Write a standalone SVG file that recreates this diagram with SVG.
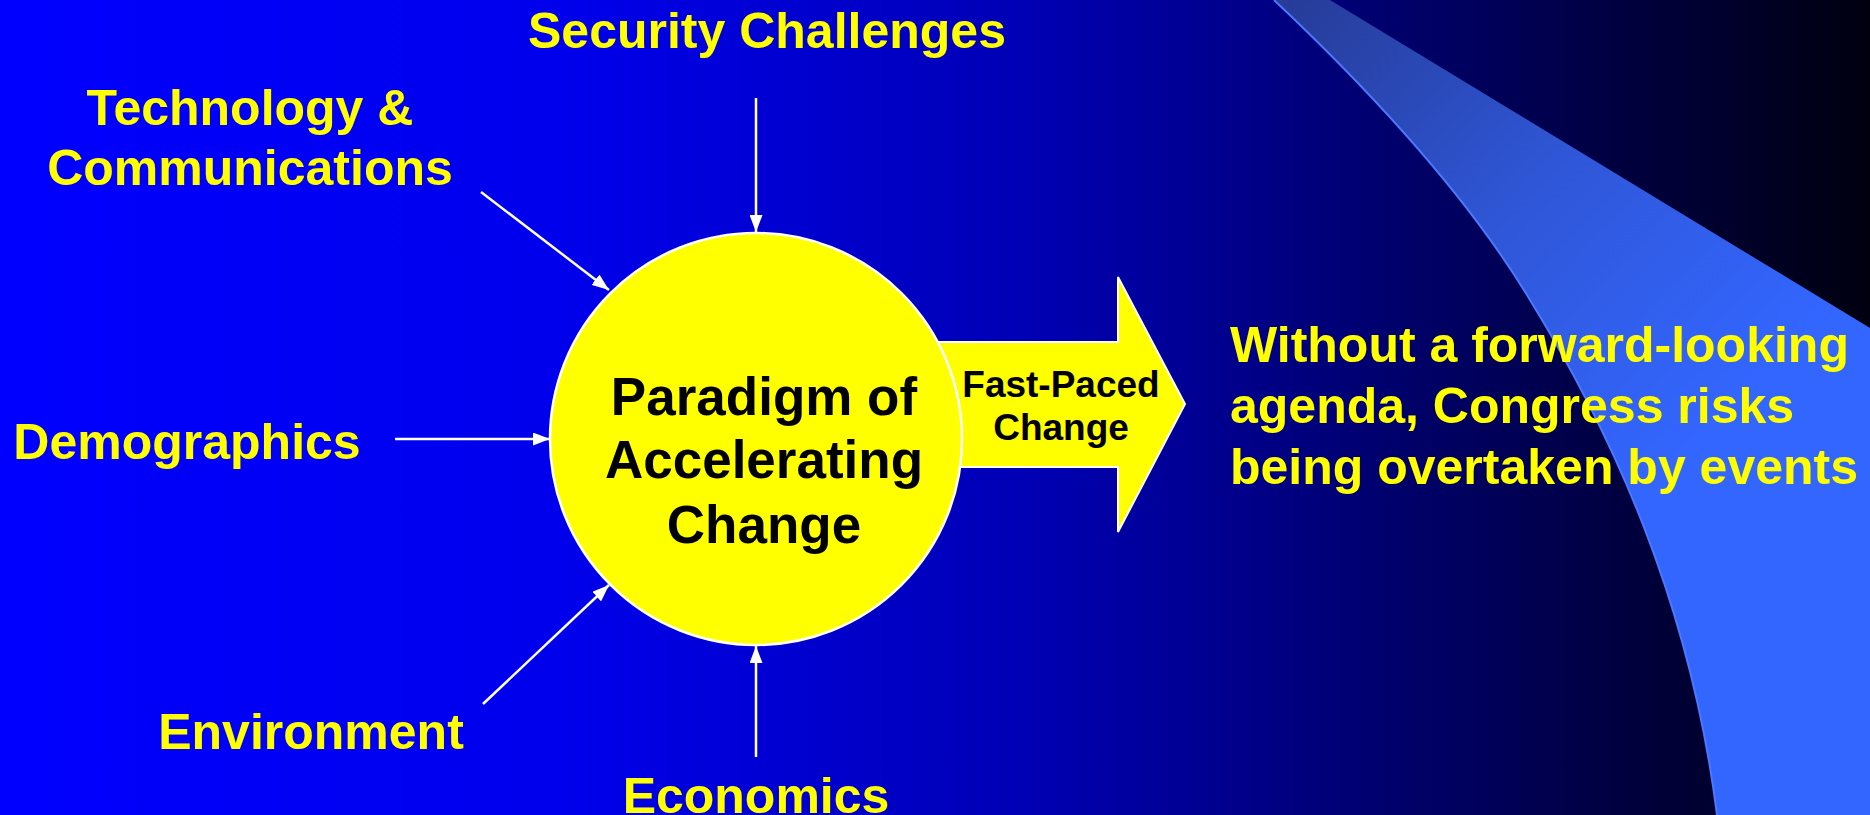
<svg xmlns="http://www.w3.org/2000/svg" width="1870" height="815" viewBox="0 0 1870 815">
<style>
.lbl{font-family:"Liberation Sans",Arial,sans-serif;font-weight:bold;fill:#FFFF00;font-size:50px}
.ctr{text-anchor:middle}
.blk{font-family:"Liberation Sans",Arial,sans-serif;font-weight:bold;fill:#000000;text-anchor:middle}
.conn{stroke:#FFFFFF;stroke-width:2.5;fill:none;marker-end:url(#ah)}
</style>
<defs>
<linearGradient id="bg" x1="0" y1="0" x2="1870" y2="0" gradientUnits="userSpaceOnUse">
<stop offset="0" stop-color="#0000FF"/>
<stop offset="0.3" stop-color="#0000EC"/>
<stop offset="0.55" stop-color="#0000B4"/>
<stop offset="0.75" stop-color="#00006A"/>
<stop offset="1" stop-color="#000010"/>
</linearGradient>
<linearGradient id="sw" x1="1290" y1="0" x2="1720" y2="420" gradientUnits="userSpaceOnUse">
<stop offset="0" stop-color="#263C98"/>
<stop offset="0.5" stop-color="#2F56D6"/>
<stop offset="1" stop-color="#3366FF"/>
</linearGradient>
<marker id="ah" viewBox="0 0 10 10" refX="10" refY="5" markerWidth="17" markerHeight="13" orient="auto" markerUnits="userSpaceOnUse" preserveAspectRatio="none">
<path d="M0,0 L10,5 L0,10 Z" fill="#FFFFFF"/>
</marker>
</defs>
<rect x="0" y="0" width="1870" height="815" fill="url(#bg)"/>
<g id="swoosh">
<path d="M1274,0 L1330,0 L1870,328 L1870,815 L1717,815 C1690,600 1610,430 1530,300 C1470,200 1380,100 1274,0 Z" fill="url(#sw)"/>
<path d="M1274,0 C1380,100 1470,200 1530,300 C1610,430 1690,600 1717,815" fill="none" stroke="#4A78FF" stroke-width="2"/>
</g>
<g id="connectors">
<line class="conn" x1="756" y1="98" x2="756" y2="232"/>
<line class="conn" x1="481" y1="192" x2="609" y2="290"/>
<line class="conn" x1="395" y1="439" x2="550" y2="439"/>
<line class="conn" x1="483" y1="704" x2="609" y2="585"/>
<line class="conn" x1="756" y1="757" x2="756" y2="646"/>
</g>
<g id="fast-paced-arrow">
<path d="M900,342 L1118,342 L1118,277 L1185,404 L1118,532 L1118,467 L900,467 Z" fill="#FFFF00" stroke="#FFFFFF" stroke-width="2"/>
<text class="blk" font-size="37" x="1061" y="397">Fast-Paced</text>
<text class="blk" font-size="37" x="1061" y="440">Change</text>
</g>
<g id="paradigm">
<circle cx="756" cy="439" r="206" fill="#FFFF00" stroke="#FFFFFF" stroke-width="2.5"/>
<text class="blk" font-size="53" x="764" y="415">Paradigm of</text>
<text class="blk" font-size="53" x="764" y="478">Accelerating</text>
<text class="blk" font-size="53" x="764" y="543">Change</text>
</g>
<g id="security"><text class="lbl ctr" x="767" y="48">Security Challenges</text></g>
<g id="technology"><text class="lbl ctr" x="250" y="125">Technology &amp;</text><text class="lbl ctr" x="250" y="185">Communications</text></g>
<g id="demographics"><text class="lbl ctr" x="187" y="459">Demographics</text></g>
<g id="environment"><text class="lbl ctr" x="311" y="749">Environment</text></g>
<g id="economics"><text class="lbl ctr" x="756" y="813">Economics</text></g>
<g id="conclusion">
<text class="lbl" x="1230" y="362">Without a forward-looking</text>
<text class="lbl" x="1230" y="423">agenda, Congress risks</text>
<text class="lbl" x="1230" y="484">being overtaken by events</text>
</g>
</svg>
